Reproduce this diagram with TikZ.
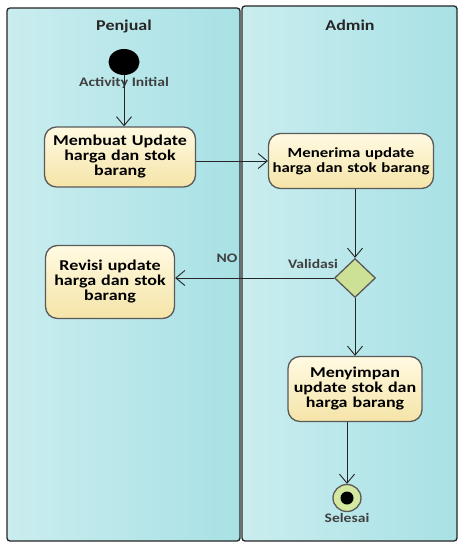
\documentclass[tikz,border=0pt]{standalone}
\usepackage{fontspec}
\setmainfont{Carlito}[FakeStretch=1.2]
\usetikzlibrary{arrows.meta,shapes.geometric}
\definecolor{laneL}{RGB}{202,237,239}
\definecolor{laneR}{RGB}{168,225,229}
\definecolor{actT}{RGB}{255,250,226}
\definecolor{actB}{RGB}{245,228,168}
\definecolor{decF}{RGB}{204,224,150}
\definecolor{finF}{RGB}{212,232,160}
\definecolor{edge}{RGB}{90,90,90}
\begin{document}
\begin{tikzpicture}[x=1pt,y=-1pt,
  lane/.style={draw=black!85, line width=1.3pt, rounded corners=3pt, left color=laneL, right color=laneR},
  act/.style={draw=edge, line width=1.3pt, rounded corners=12pt, top color=actT, bottom color=actB,
    align=center, font=\fontsize{15}{15}\selectfont\bfseries, inner sep=0pt},
  flow/.style={draw=black!85, line width=0.9pt, -{Straight Barb[length=9pt,width=15pt,line width=0.9pt]}},
  title/.style={font=\fontsize{15}{15}\selectfont\bfseries, text=black!85},
  lbl/.style={font=\fontsize{13}{13}\selectfont\bfseries, text=black!75}
]
\useasboundingbox (0,0) rectangle (459,543);
\fill[white] (0,0) rectangle (459,543);
% swimlanes
\path[lane] (7,8) rectangle (240,541);
\path[lane] (242,6) rectangle (457,541);
\node[title] (tPenjual) at (124,27) {Penjual};
\node[title] (tAdmin) at (350,25) {Admin};
% nodes
\node[ellipse, fill=black, minimum width=31pt, minimum height=26pt, inner sep=0pt] (init) at (124,62) {};
\node[lbl] (initL) at (124,83) {Activity Initial};
\node[act, minimum width=151pt, minimum height=60pt, text width=144pt] (membuat) at (120,157) {Membuat Update\\harga dan stok\\barang};
\node[act, minimum width=165pt, minimum height=55pt, text width=160pt, font=\fontsize{14}{15}\selectfont\bfseries] (menerima) at (351,161) {Menerima update\\harga dan stok barang};
\node[act, minimum width=129pt, minimum height=73pt, text width=124pt] (revisi) at (110,282) {Revisi update\\harga dan stok\\barang};
\node[diamond, draw=edge, line width=1.3pt, fill=decF, minimum width=41pt, minimum height=39pt, inner sep=0pt] (dec) at (355,278) {};
\node[lbl] (decL) at (313,264) {Validasi};
\node[lbl] (no) at (227,258) {NO};
\node[act, minimum width=134pt, minimum height=65pt, text width=128pt] (menyimpan) at (355,389) {Menyimpan\\update stok dan\\harga barang};
\node[ellipse, draw=edge, line width=1.3pt, fill=finF, minimum width=28pt, minimum height=27pt, inner sep=0pt] (final) at (347,498) {};
\node[circle, fill=black, minimum size=13pt, inner sep=0pt] (finalIn) at (final) {};
\node[lbl] (finL) at (347,518) {Selesai};
% flows
\draw[flow] (init) -- (init |- membuat.north);
\draw[flow] (membuat.east |- menerima.west) -- (menerima.west);
\draw[flow] (dec |- menerima.south) -- (dec.north);
\draw[flow] (dec.west) -- (revisi.east |- dec.west);
\draw[flow] (dec.south) -- (dec |- menyimpan.north);
\draw[flow] (final |- menyimpan.south) -- (final.north);
\end{tikzpicture}
\end{document}
